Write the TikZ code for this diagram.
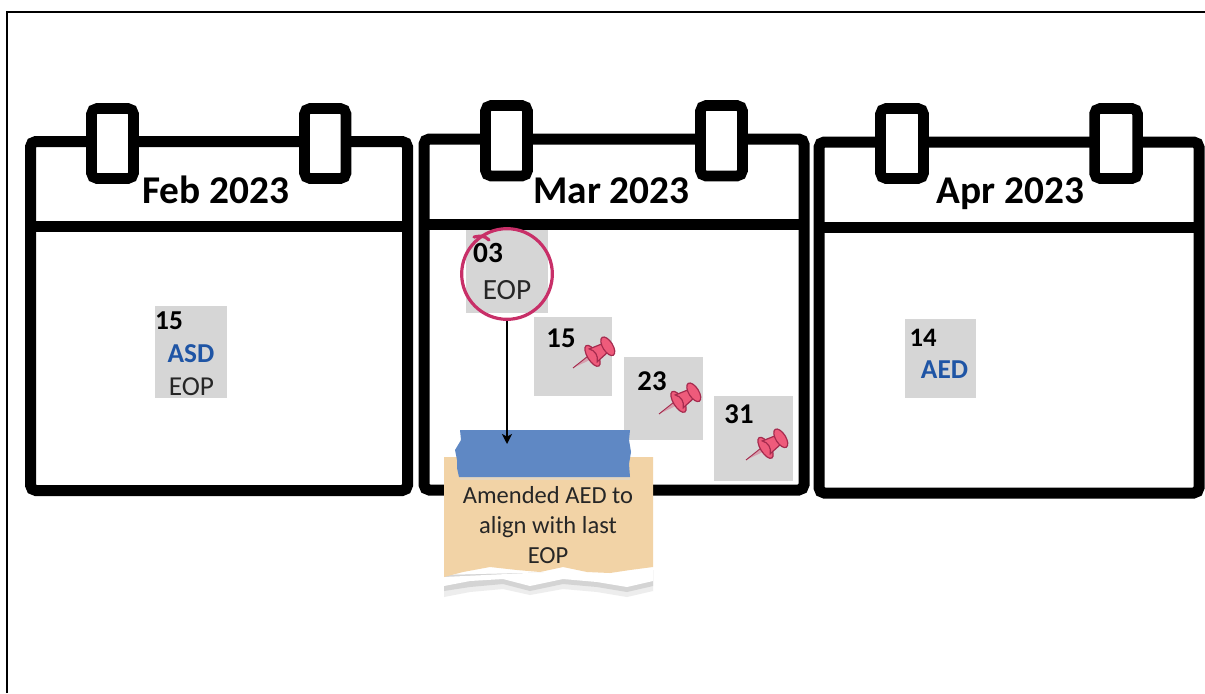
\documentclass[tikz,border=0pt]{standalone}
\usepackage{fontspec}
\setmainfont{Carlito}
\usetikzlibrary{arrows.meta}
\definecolor{daygray}{HTML}{D6D6D6}
\definecolor{ringpink}{HTML}{C82F68}
\definecolor{pinfill}{HTML}{EE5B7B}
\definecolor{pinedge}{HTML}{A52B4E}
\definecolor{tapeblue}{HTML}{5F88C4}
\definecolor{notepeach}{HTML}{F2D3A6}
\definecolor{datablue}{HTML}{1F55A5}
\tikzset{
  calline/.style={draw=black,line width=8.25pt,rounded corners=4pt,fill=white},
  headerline/.style={draw=black,line width=8.25pt},
  ringbox/.style={draw=black,line width=7.9pt,rounded corners=4pt,fill=white},
  heading/.style={anchor=base,inner sep=0pt,font=\bfseries\fontsize{29.5pt}{32pt}\selectfont,text=black},
  daybox/.style={fill=daygray,inner sep=0pt,anchor=north west},
  daynum/.style={anchor=base,inner sep=0pt,font=\bfseries\fontsize{20.5pt}{24pt}\selectfont,text=black},
  datebold/.style={anchor=base,inner sep=0pt,font=\bfseries\fontsize{20.5pt}{24pt}\selectfont,text=datablue},
  datereg/.style={anchor=base,inner sep=0pt,font=\fontsize{20.5pt}{24pt}\selectfont,text=black!85},
  notetext/.style={anchor=base,inner sep=0pt,font=\fontsize{18.4pt}{20pt}\selectfont,text=black!85},
  pics/pushpin/.style={code={
    \fill[pinedge!45] (0,0) -- (22,-2.5) -- (22,2.5) -- cycle;
    \draw[pinedge,line width=0.7pt] (0,0) -- (22,-2.5);
    \draw[pinedge,fill=pinfill,line width=0.9pt] (23,0) ellipse [x radius=5,y radius=12];
    \draw[pinedge,fill=pinfill,line width=0.9pt] (24,-7.5) -- (38,-5) -- (38,5) -- (24,7.5) .. controls (28,3) and (28,-3) .. (24,-7.5) -- cycle;
    \draw[pinedge,fill=pinfill,line width=0.9pt] (41,0) ellipse [x radius=5,y radius=10.5];
  }}
}
\begin{document}
\begin{tikzpicture}[x=0.75pt,y=-0.75pt]
\useasboundingbox (0,0) rectangle (1205,693);
\fill[white] (0,0) rectangle (1205,693);
% page frame
\draw[black,line width=1.5pt] (7,693) -- (7,12) -- (1205,12);

% calendars
\draw[calline] (30.5,141.5) rectangle (407.5,490.5);
\draw[headerline] (30.5,226) -- (407.5,226);
\draw[ringbox] (91.5,108.5) rectangle (133.5,178.5);
\draw[ringbox] (304.5,108.5) rectangle (346,178.5);
\node[heading] (febhead) at (216,203) {Feb 2023};

\draw[calline] (424,139) rectangle (804,490);
\draw[headerline] (424,224) -- (804,224);
\draw[ringbox] (485.5,105.5) rectangle (527.5,176);
\draw[ringbox] (700.5,105.5) rectangle (742.5,176);
\node[heading] (marhead) at (611.5,203) {Mar 2023};

\draw[calline] (819,142) rectangle (1199,493);
\draw[headerline] (819,227) -- (1199,227);
\draw[ringbox] (880.5,108.5) rectangle (923.5,178.5);
\draw[ringbox] (1094.5,108.5) rectangle (1137.5,178.5);
\node[heading] (aprhead) at (1010.5,203) {Apr 2023};

% February
\node[daybox,minimum width=54pt,minimum height=69pt] (febbox) at (155,306) {};
\node[daynum] (feb15) at (169,329) {15};
\node[datebold] (febasd) at (191,362) {ASD};
\node[datereg] (febeop) at (191.5,395) {EOP};

% March
\node[daybox,minimum width=61.5pt,minimum height=62.25pt] (mar03box) at (466,230) {};
\node[daybox,minimum width=58.5pt,minimum height=59.25pt] (mar15box) at (534,317) {};
\node[daybox,minimum width=59.25pt,minimum height=62.25pt] (mar23box) at (624,357) {};
\node[daybox,minimum width=59.25pt,minimum height=63.75pt] (mar31box) at (714,396) {};
\node[daynum,font=\bfseries\fontsize{22pt}{26pt}\selectfont] (mar03) at (488,262) {03};
\node[datereg,font=\fontsize{22pt}{26pt}\selectfont] (mareop) at (507,299) {EOP};
\node[daynum,font=\bfseries\fontsize{21.5pt}{26pt}\selectfont] (mar15) at (561,347) {15};
\node[daynum,font=\bfseries\fontsize{21.5pt}{26pt}\selectfont] (mar23) at (652,390) {23};
\node[daynum,font=\bfseries\fontsize{21.5pt}{26pt}\selectfont] (mar31) at (739,423) {31};
\pic[rotate=32] at (573,368) {pushpin};
\pic[rotate=32] at (659,414) {pushpin};
\pic[rotate=32] at (746,460) {pushpin};

% hand-drawn ring
\node[circle,draw=ringpink,line width=2.4pt,minimum size=68pt,inner sep=0pt] (ring) at (507,274) {};
\draw[ringpink,line width=2.4pt,line cap=round] (474,237) .. controls (480,236) and (484,235) .. (489,240);

% April
\node[daybox,minimum width=53pt,minimum height=59pt] (aprbox) at (905,319) {};
\node[daynum,font=\bfseries\fontsize{20pt}{24pt}\selectfont] (apr14) at (923,346) {14};
\node[datebold] (apraed) at (944.5,378) {AED};

% torn note
\fill[black!7] (444,575) -- (444,597) -- (470,592) -- (503,589) -- (530,595) -- (563,589) -- (597,592) -- (627,597) -- (653,591) -- (653,570) -- cycle;
\fill[black!17] (444,575) -- (444,591) -- (470,587) -- (503,584) -- (530,591) -- (563,584) -- (597,587) -- (627,592) -- (653,586) -- (653,570) -- cycle;
\fill[white] (444,577) -- (444,586) -- (470,581) -- (503,579) -- (530,586) -- (563,579) -- (597,582) -- (627,587) -- (653,581) -- (653,567) -- cycle;
\fill[notepeach] (444,457) -- (653,457) -- (653,567) -- (630,570) -- (610,573) -- (587,572) -- (563,567) -- (540,572) -- (517,570) -- (490,567) -- (463,572) -- (444,577) -- cycle;
\fill[black!15,opacity=0.5] (460,477) rectangle (630,480);
\fill[tapeblue] (460,430) -- (630,430) -- (629,440) -- (631,452) -- (629,464) -- (630,477) -- (459,477) -- (457,468) -- (457,460) -- (455,450) -- (461,440) -- cycle;
\coordinate (tapepoint) at (507,444);
\node[notetext] (note1) at (548,503) {Amended AED to};
\node[notetext] (note2) at (548,533) {align with last};
\node[notetext] (note3) at (548,563) {EOP};

% connector
\draw[black,line width=1.5pt,-{Stealth[length=7.5pt,width=7.5pt,inset=2pt]}] (ring.south) -- (tapepoint);
\end{tikzpicture}
\end{document}
